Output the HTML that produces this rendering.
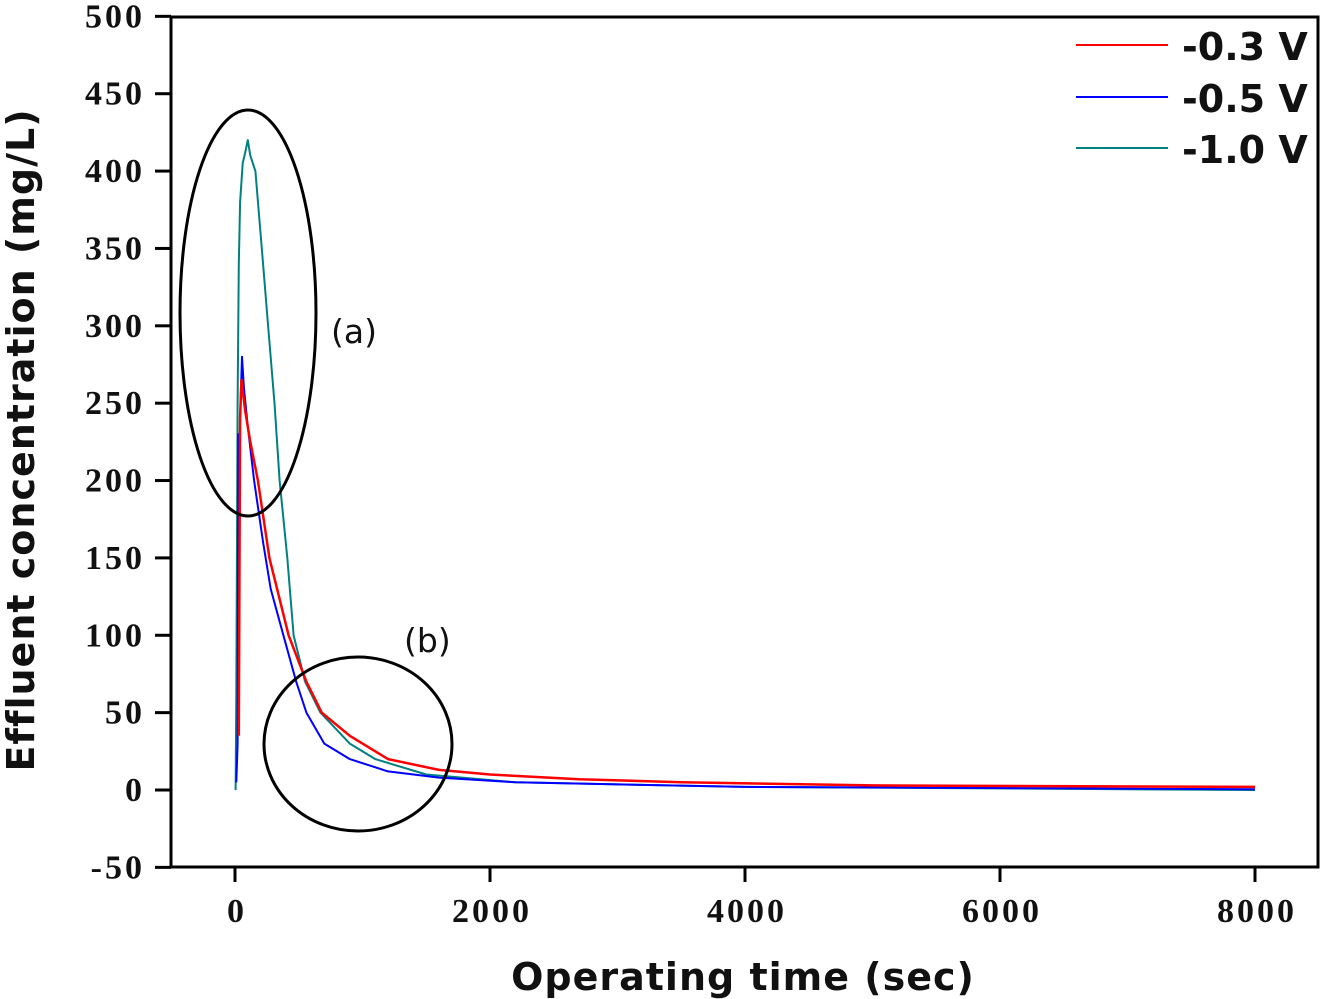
<!DOCTYPE html>
<html><head><meta charset="utf-8"><style>
body{margin:0;background:#fff;}
svg{display:block;}
.tk{font-family:"Liberation Serif",serif;font-weight:bold;font-size:34px;letter-spacing:3px;fill:#111;}
.ax{font-family:"DejaVu Sans","Liberation Sans",sans-serif;font-weight:bold;font-size:38px;letter-spacing:1px;fill:#111;}
.lg{font-family:"DejaVu Sans","Liberation Sans",sans-serif;font-weight:bold;font-size:38px;fill:#111;}
.an{font-family:"DejaVu Sans","Liberation Sans",sans-serif;font-size:33px;fill:#111;}
</style></head><body>
<svg id="chart" width="1323" height="999">
<rect x="171" y="17" width="1147" height="850" fill="none" stroke="#000" stroke-width="3"/>
<g id="grid"></g>
<g id="series"></g>
<ellipse cx="248" cy="313" rx="68" ry="203" fill="none" stroke="#000" stroke-width="3"/>
<ellipse cx="358" cy="744" rx="94" ry="87" fill="none" stroke="#000" stroke-width="3"/>
<text class="an" x="331" y="343">(a)</text>
<text class="an" x="404" y="652">(b)</text>
<text class="ax" x="743" y="990" text-anchor="middle">Operating time (sec)</text>
<text class="ax" transform="translate(34,440) rotate(-90)" text-anchor="middle">Effluent concentration (mg/L)</text>
<g>
<line x1="1076" y1="45" x2="1168" y2="45" stroke="#ff0000" stroke-width="2"/>
<text class="lg" x="1182" y="60">-0.3 V</text>
<line x1="1076" y1="97" x2="1168" y2="97" stroke="#0000ff" stroke-width="2"/>
<text class="lg" x="1182" y="112">-0.5 V</text>
<line x1="1076" y1="148" x2="1168" y2="148" stroke="#008080" stroke-width="2"/>
<text class="lg" x="1182" y="163">-1.0 V</text>
</g>
</svg>
<script>
const yTicks=[-50,0,50,100,150,200,250,300,350,400,450,500];
const xTicks=[0,2000,4000,6000,8000];
const t03=[30,40,50,80,120,180,270,420,560,680,900,1200,1600,2000,2700,3500,5000,8000];
const c03=[35,240,265,245,225,200,150,100,70,50,35,20,13,10,7,5,3,2];
const t05=[10,20,25,30,40,55,70,100,150,220,280,380,480,560,700,900,1200,1600,2200,4000,8000];
const c05=[5,30,230,170,240,280,260,235,200,160,130,100,70,50,30,20,12,8,5,2,0.5];
const t10=[5,10,20,30,40,60,80,100,120,160,210,260,310,350,410,460,550,670,900,1100,1500,2200,4000,8000];
const c10=[0,60,250,340,380,405,412,420,410,400,350,300,250,200,150,100,70,50,30,20,10,5,2,0];
const X=v=>235+v*0.1275, Y=v=>790-v*1.5473;
const NS="http://www.w3.org/2000/svg";
const g=document.getElementById('grid'), s=document.getElementById('series');
function mk(tag,a,p){const e=document.createElementNS(NS,tag);for(const k in a)e.setAttribute(k,a[k]);p.appendChild(e);return e;}
yTicks.forEach(v=>{
 const l=mk('line',{x1:155,x2:171,y1:Y(v),y2:Y(v),stroke:'#000','stroke-width':3},g);
 
 
 const t=mk('text',{x:145,y:Y(v)+11,'text-anchor':'end',class:'tk'},g);t.textContent=v;
 
 
});
xTicks.forEach(v=>{
 const l=mk('line',{x1:X(v),x2:X(v),y1:867,y2:882,stroke:'#000','stroke-width':3},g);
 
 
 const t=mk('text',{x:X(v)+2,y:922,'text-anchor':'middle',class:'tk'},g);t.textContent=v;
 
 
});
function draw(ts,cs,col,w,name){
 const d=ts.map((t,i)=>(i?'L':'M')+X(t).toFixed(1)+' '+Y(cs[i]).toFixed(1)).join(' ');
 const p=mk('path',{d:d,fill:'none',stroke:col,'stroke-width':w,'stroke-linejoin':'round'},s);
 
 
}
draw(t10,c10,'#008080',2,'series-1.0v');
draw(t05,c05,'#0000ff',2,'series-0.5v');
draw(t03,c03,'#ff0000',2.5,'series-0.3v');
</script>
</body></html>
